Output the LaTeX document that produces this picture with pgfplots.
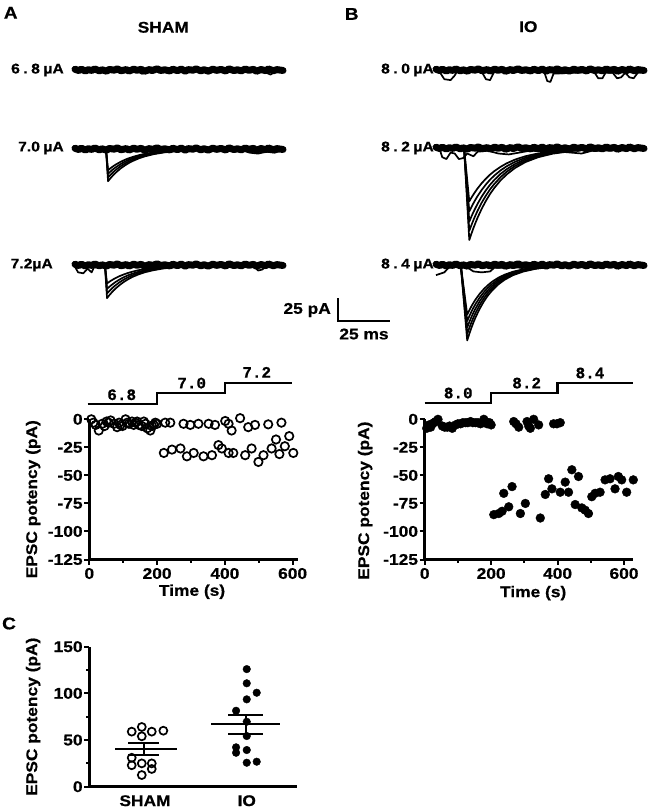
\documentclass[border=0pt]{standalone}
\usepackage{fontspec}
\setmainfont{Liberation Sans}[FakeStretch=1.12, BoldFeatures={FakeBold=0.6}]
\newfontfamily\monofont{Liberation Mono}[BoldFeatures={FakeBold=0.6}]
\usepackage{pgfplots}
\usepackage{pgfplotstable}
\pgfplotsset{compat=1.18}

\newcommand\lf{\fontsize{15.5}{18}\selectfont\bfseries}
\newcommand\yf{\fontsize{15.5}{18}\selectfont\bfseries}
\newcommand\hf{\fontsize{17}{20}\selectfont\bfseries}
\newcommand\smf{\fontsize{14}{16}\selectfont\bfseries}
\newcommand\stf{\fontsize{16}{18}\selectfont\monofont\bfseries}
\newcommand\spc{\hspace{3.5pt}}

% baseline noise shared by the sweeps (pA vs ms)
\pgfplotstableread{
t y
0 0.8
1.8 -0.6
3.1 0.9
5.0 -1.2
6.2 0.3
8.1 -0.4
9.5 1.1
11.7 -0.9
13.0 0.2
15.2 -1.3
16.4 0.6
18.9 -0.2
20.3 1.2
22.1 -0.8
24.6 0.4
26.0 -1.1
28.3 0.9
29.7 -0.3
31.9 0.7
33.4 -1.4
35.8 0.5
37.1 -0.6
39.5 1.3
41.0 -0.5
43.2 0.2
45.6 -1.0
47.0 0.8
49.3 -0.7
51.1 1.0
53.0 -1.3
54.4 0.4
56.8 -0.2
58.2 1.2
60.5 -0.9
62.0 0.3
64.1 -1.2
66.3 0.9
68.0 -0.4
70.2 0.6
72.5 -1.1
74.0 1.3
76.3 -0.6
78.1 0.2
80.0 -0.9
81.8 1.0
83.6 -0.3
85.9 0.7
87.2 -1.4
89.4 0.5
91.7 -0.7
93.0 1.1
95.3 -0.8
97.1 0.4
100 -0.5
}\noise

\pgfplotsset{
  trace/.style={hide axis, scale only axis, width=208pt, height=110.4pt,
    xmin=0, xmax=100, ymin=-110, ymax=10, clip=false, anchor=south west},
  base/.style={line width=7pt, line join=round, line cap=round, black},
  ev/.style={line width=1.7pt, black, line join=round},
  scat/.style={scale only axis, anchor=south west,
    axis x line=bottom, axis y line=left,
    axis line style={-, line width=2.6pt},
    tick align=outside, major tick length=5pt, minor tick length=3pt,
    tick style={line width=2pt, black},
    tick label style={font=\lf},
    yticklabel style={inner sep=1.5pt},
    label style={font=\yf},
    clip=false},
}

\begin{document}
\begin{tikzpicture}
\useasboundingbox (0pt,0pt) rectangle (649pt,-808pt);
\fill[white] (0pt,0pt) rectangle (649pt,-808pt);

% ---------- sweeps, SHAM ----------
\begin{axis}[trace, at={(75pt,-171.2pt)}]
\addplot[base] table[x=t,y=y] {\noise};
\addplot[ev] coordinates {(30,-1)(32,-4)(34,-3)(40,-1)(62,-1)(64,-4)(66,-2)(90,-1)(94,-5)(96,-2)};
\end{axis}

\begin{axis}[trace, at={(75pt,-250.2pt)}]
\addplot[base] table[x=t,y=y] {\noise};
\addplot[ev] coordinates {(14.9,0)(15.9,-35)(16.9,-32.2)(17.9,-29.6)(18.9,-27.3)(19.9,-25.1)(21.9,-21.2)(23.9,-18)(25.9,-15.2)(27.9,-12.9)(30.9,-10)(33.9,-7.8)(37.9,-5.6)(42.9,-3.7)(48.9,-2.2)(55.9,-1.3)(70,0)};
\addplot[ev] coordinates {(14.9,0)(15.9,-31)(16.9,-28.5)(17.9,-26.2)(18.9,-24.1)(19.9,-22.2)(21.9,-18.8)(23.9,-15.9)(25.9,-13.5)(27.9,-11.4)(30.9,-8.9)(33.9,-6.9)(37.9,-5)(42.9,-3.3)(48.9,-2)(55.9,-1.1)(70,0)};
\addplot[ev] coordinates {(14.9,0)(15.9,-27)(16.9,-24.8)(17.9,-22.8)(18.9,-21)(19.9,-19.4)(21.9,-16.4)(23.9,-13.9)(25.9,-11.7)(27.9,-9.9)(30.9,-7.7)(33.9,-6)(37.9,-4.3)(42.9,-2.8)(48.9,-1.7)(55.9,-1)(70,0)};
\addplot[ev] coordinates {(14.9,0)(15.9,-23)(16.9,-21.2)(17.9,-19.5)(18.9,-17.9)(19.9,-16.5)(21.9,-14)(23.9,-11.8)(25.9,-10)(27.9,-8.5)(30.9,-6.6)(33.9,-5.1)(37.9,-3.7)(42.9,-2.4)(48.9,-1.5)(55.9,-0.8)(70,0)};
\addplot[ev] coordinates {(80,-1)(84,-4)(88,-5)(92,-3)(96,-4)(99,-2)};
\end{axis}

\begin{axis}[trace, at={(75pt,-366.2pt)}]
\addplot[base] table[x=t,y=y] {\noise};
\addplot[ev] coordinates {(0,-2)(1.5,-8)(4,-9)(6,-4)(8,-8)(9,-3)(14.4,-1)};
\addplot[ev] coordinates {(14.4,0)(15.4,-36)(16.4,-33.1)(17.4,-30.5)(18.4,-28)(19.4,-25.8)(21.4,-21.9)(23.4,-18.5)(25.4,-15.7)(27.4,-13.2)(30.4,-10.3)(33.4,-8)(37.4,-5.8)(42.4,-3.8)(48.4,-2.3)(55.4,-1.3)(70,0)};
\addplot[ev] coordinates {(14.4,0)(15.4,-31)(16.4,-28.5)(17.4,-26.2)(18.4,-24.1)(19.4,-22.2)(21.4,-18.8)(23.4,-15.9)(25.4,-13.5)(27.4,-11.4)(30.4,-8.9)(33.4,-6.9)(37.4,-5)(42.4,-3.3)(48.4,-2)(55.4,-1.1)(70,0)};
\addplot[ev] coordinates {(14.4,0)(15.4,-26)(16.4,-23.9)(17.4,-22)(18.4,-20.3)(19.4,-18.6)(21.4,-15.8)(23.4,-13.3)(25.4,-11.3)(27.4,-9.6)(30.4,-7.5)(33.4,-5.8)(37.4,-4.2)(42.4,-2.7)(48.4,-1.7)(55.4,-0.9)(70,0)};
\addplot[ev] coordinates {(14.4,0)(15.4,-20)(16.4,-18.4)(17.4,-16.9)(18.4,-15.6)(19.4,-14.3)(21.4,-12.1)(23.4,-10.3)(25.4,-8.7)(27.4,-7.4)(30.4,-5.7)(33.4,-4.5)(37.4,-3.2)(42.4,-2.1)(48.4,-1.3)(55.4,-0.7)(70,0)};
\addplot[ev] coordinates {(86,-1)(88,-6)(90,-5)(92,-1)};
% scale bar: 25 pA, 25 ms
\addplot[line width=2.6pt, black] coordinates {(126.4,-35.9)(126.4,-60.9)(151.4,-60.9)};
\end{axis}

% ---------- sweeps, IO ----------
\begin{axis}[trace, at={(436pt,-171.2pt)}]
\addplot[base] table[x=t,y=y] {\noise};
\addplot[ev] coordinates {(0,-2)(2,-3)(4,-10)(7,-11)(9,-6)(10,-2)(22,-2)(24,-10)(26,-11)(27.5,-4)(28,-2)(52,-2)(53.5,-12)(55,-13)(56.5,-4)(76,-2)(78,-9)(80,-9)(81.5,-3)(85,-3)(87,-9)(89,-8)(91,-3)(93,-8)(95,-9)(97,-3)(100,-2)};
\end{axis}

\begin{axis}[trace, at={(436pt,-249.2pt)}]
\addplot[base] table[x=t,y=y] {\noise};
\addplot[ev] coordinates {(0,-1)(2,-3)(3,-10)(5,-12)(7,-5)(9,-6)(11,-12)(13,-11)(15,-6)(18,-9)(20,-4)(25,-3)(30,-6)(35,-7)(40,-5)(45,-3)(60,-4)(70,-6)(75,-3)(100,-2)};
\addplot[ev] coordinates {(13.5,0)(16,-100)(17,-93.3)(18,-87)(19,-81.2)(20,-75.7)(22,-65.9)(24,-57.4)(26,-49.9)(28,-43.5)(31,-35.3)(34,-28.7)(38,-21.7)(43,-15.3)(49,-10.1)(56,-6.2)(66,-3.1)(80,0)};
\addplot[ev] coordinates {(13.5,0)(16,-90)(17,-84)(18,-78.3)(19,-73.1)(20,-68.1)(22,-59.3)(24,-51.7)(26,-44.9)(28,-39.2)(31,-31.8)(34,-25.8)(38,-19.5)(43,-13.8)(49,-9.1)(56,-5.6)(66,-2.8)(80,0)};
\addplot[ev] coordinates {(13.5,0)(16,-80)(17,-74.6)(18,-69.6)(19,-65)(20,-60.6)(22,-52.7)(24,-45.9)(26,-39.9)(28,-34.8)(31,-28.2)(34,-23)(38,-17.4)(43,-12.2)(49,-8.1)(56,-5)(66,-2.5)(80,0)};
\addplot[ev] coordinates {(13.5,0)(16,-69)(17,-64.4)(18,-60)(19,-56)(20,-52.2)(22,-45.5)(24,-39.6)(26,-34.4)(28,-30)(31,-24.4)(34,-19.8)(38,-15)(43,-10.6)(49,-7)(56,-4.3)(66,-2.1)(80,0)};
\addplot[ev] coordinates {(13.5,0)(16,-58)(17,-54.1)(18,-50.5)(19,-47.1)(20,-43.9)(22,-38.2)(24,-33.3)(26,-28.9)(28,-25.2)(31,-20.5)(34,-16.6)(38,-12.6)(43,-8.9)(49,-5.9)(56,-3.6)(66,-1.8)(80,0)};
\end{axis}

\begin{axis}[trace, at={(436pt,-366.2pt)}]
\addplot[base] table[x=t,y=y] {\noise};
\addplot[ev] coordinates {(0,-11)(4,-8)(6,-3)(14,-1)(18,-7)(22,-8)(26,-7)(28,-3)(100,-1)};
\addplot[ev] coordinates {(11.9,0)(15,-82)(16,-74.9)(17,-68.4)(18,-62.4)(19,-57)(21,-47.6)(23,-39.6)(25,-33)(27,-27.6)(30,-21)(33,-16)(37,-11.1)(42,-7.1)(48,-4.1)(55,-2.1)(70,0)};
\addplot[ev] coordinates {(11.9,0)(15,-75)(16,-68.5)(17,-62.6)(18,-57.1)(19,-52.1)(21,-43.5)(23,-36.2)(25,-30.2)(27,-25.2)(30,-19.2)(33,-14.6)(37,-10.1)(42,-6.5)(48,-3.8)(55,-2)(70,0)};
\addplot[ev] coordinates {(11.9,0)(15,-68)(16,-62.1)(17,-56.7)(18,-51.7)(19,-47.3)(21,-39.4)(23,-32.8)(25,-27.4)(27,-22.8)(30,-17.4)(33,-13.3)(37,-9.2)(42,-5.8)(48,-3.4)(55,-1.8)(70,0)};
\addplot[ev] coordinates {(11.9,0)(15,-61)(16,-55.7)(17,-50.9)(18,-46.4)(19,-42.4)(21,-35.4)(23,-29.5)(25,-24.6)(27,-20.5)(30,-15.6)(33,-11.9)(37,-8.2)(42,-5.2)(48,-3.1)(55,-1.6)(70,0)};
\addplot[ev] coordinates {(11.9,0)(15,-54)(16,-49.3)(17,-45)(18,-41.1)(19,-37.5)(21,-31.3)(23,-26.1)(25,-21.8)(27,-18.1)(30,-13.8)(33,-10.5)(37,-7.3)(42,-4.6)(48,-2.7)(55,-1.4)(70,0)};
\end{axis}

% ---------- time course, SHAM ----------
\begin{axis}[scat, at={(89.3pt,-559.5pt)}, width=208.4pt, height=140.2pt,
  xmin=0, xmax=615, ymin=-125, ymax=0,
  xtick={0,200,400,600}, xticklabels={0,200,400,600}, minor xtick={100,300,500},
  ytick={-125,-100,-75,-50,-25,0}, yticklabels={-125,-100,-75,-50,-25,0},
  ylabel={EPSC potency (pA)}, xlabel={Time (s)},
  ylabel style={at={(axis description cs:-0.27,0.43)}, anchor=center},
  xlabel style={at={(axis description cs:0.493,-0.23)}, anchor=center}]
\addplot[line width=2.2pt, black] coordinates {(-5,13.6)(200,13.6)(200,23.2)(400,23.2)(400,32.6)(598,32.6)};
\node[font=\stf, anchor=base] at (axis cs:95.6,17.2) {6.8};
\node[font=\stf, anchor=base] at (axis cs:302,27.6) {7.0};
\node[font=\stf, anchor=base] at (axis cs:494,37.1) {7.2};
\addplot[only marks, mark=o, mark size=4.2pt, mark options={line width=1.7pt, black}] coordinates {
(6,0)(12,-3)(19,-5)(28,-10)(38,-4)(45,-6)(51,-2)(57,-3)(63,-1)(73,-4)(82,-7)(88,-3)(92,-5)(98,-6)
(107,0)(112,-3)(117,-4)(126,-2)(131,-5)(136,-3)(141,-2)(146,-5)(155,-6)(161,-2)(166,-4)(171,-8)(180,-10)(185,-6)(190,-5)(195,-3)(200,-4)
(224,-3)(239,-3)(278,-4)(298,-5)(322,-4)(352,-4)(371,-5)(401,-1.5)(411,-4)(420,-10)(445,1)(469,-7)(489,-5)(528,-4.5)(567,-3)
(220,-30)(244,-27)(269,-26)(288,-33)(308,-30)(337,-33)(362,-32)(381,-23)(391,-26)(411,-30)(425,-30)(460,-32)(479,-26)(499,-38)(514,-32)(538,-26)(551,-18)(561,-31)(577,-24)(590,-15)(602,-30)};
\end{axis}

% ---------- time course, IO ----------
\begin{axis}[scat, at={(424.7pt,-559.5pt)}, width=208.6pt, height=140.2pt,
  xmin=0, xmax=628, ymin=-125, ymax=0,
  xtick={0,200,400,600}, xticklabels={0,200,400,600}, minor xtick={100,300,500},
  ytick={-125,-100,-75,-50,-25,0}, yticklabels={-125,-100,-75,-50,-25,0},
  ylabel={EPSC potency (pA)}, xlabel={Time (s)},
  ylabel style={at={(axis description cs:-0.286,0.42)}, anchor=center},
  xlabel style={at={(axis description cs:0.52,-0.24)}, anchor=center}]
\addplot[line width=2.2pt, black] coordinates {(0,14.3)(200,14.3)(200,23.2)(400,23.2)(400,32.1)(628,32.1)};
\node[font=\stf, anchor=base] at (axis cs:101,18.7) {8.0};
\node[font=\stf, anchor=base] at (axis cs:307,27.6) {8.2};
\node[font=\stf, anchor=base] at (axis cs:497.6,36.6) {8.4};
\addplot[only marks, mark=*, mark size=4.4pt, mark options={black, fill=black}] coordinates {
(6,-8)(13,-5)(18,-7)(23,-4)(28,-3)(33,-2)(40,0)(53,-6)(60,-7)(68,-7)(75,-6)(83,-8)(93,-5)(100,-4)(108,-4)(115,-3)(123,-3)(130,-3)(138,-2)(145,-3)(153,-3)(160,-3)(168,-4)(178,0)(183,-2)(188,-4)(195,-3)(200,-5)
(268,-2)(275,-4)(283,-7)(308,-2)(313,-6)(318,-8)(328,0)(343,-5)(388,-4)(398,-4)(408,-3)
(208,-85)(223,-84)(233,-82)(238,-66)(253,-78)(263,-60)(288,-84)(303,-75)(348,-88)(363,-67)(373,-53)(383,-62)(408,-65)(423,-56)(433,-65)(443,-45)(453,-76)(463,-51)(473,-79)(483,-81)(493,-84)(503,-69)(513,-66)(528,-65)(543,-54)(558,-53)(573,-62)(583,-51)(593,-54)(608,-65)(628,-54)};
\end{axis}

% ---------- panel C ----------
\begin{axis}[scat, at={(89.3pt,-786.7pt)}, width=208pt, height=140pt,
  xmin=0.452, xmax=2.497, ymin=0, ymax=150,
  xtick={1,2}, xticklabels={SHAM,IO}, x tick style={draw=none},
  ytick={0,50,100,150}, yticklabels={0,50,100,150}, minor ytick={25,75,125},
  ylabel={EPSC potency (pA)},
  ylabel style={at={(axis description cs:-0.27,0.5)}, anchor=center}]
\addplot[only marks, mark=o, mark size=4pt, mark options={line width=1.7pt, black}] coordinates {
(0.869,59)(0.968,64)(1.066,59)(1.18,60)(0.968,54)(0.869,31)(0.968,25)(0.869,23)(1.066,25)(1.066,19)(0.968,12.5)};
\addplot[only marks, mark=*, mark size=3.8pt, mark options={black, fill=black}] coordinates {
(2,126)(2,110.8)(2.098,100.7)(2,93.6)(1.895,81.4)(2,69.6)(2,54.3)(1.895,42.2)(1.895,36.4)(2,39.3)(2,25.7)(2.098,26.8)};
% mean and SEM
\addplot[line width=2pt, black] coordinates {(0.705,40)(1.312,40)};
\addplot[line width=2pt, black] coordinates {(0.836,47)(1.141,47)};
\addplot[line width=2pt, black] coordinates {(0.836,34.3)(1.141,34.3)};
\addplot[line width=2pt, black] coordinates {(0.99,34.3)(0.99,47)};
\addplot[line width=2pt, black] coordinates {(1.65,67)(2.33,67)};
\addplot[line width=2pt, black] coordinates {(1.82,77.1)(2.16,77.1)};
\addplot[line width=2pt, black] coordinates {(1.82,56.8)(2.16,56.8)};
\addplot[line width=2pt, black] coordinates {(1.99,56.8)(1.99,77.1)};
\end{axis}

% ---------- text ----------
\begin{scope}[every node/.style={inner sep=0pt}]
\node[font=\hf] at (10.7pt,-12.8pt) {A};
\node[font=\hf] at (351.7pt,-14pt) {B};
\node[font=\hf] at (9pt,-623.5pt) {C};
\node[font=\lf] at (163.3pt,-27.3pt) {SHAM};
\node[font=\lf] at (528.3pt,-26.7pt) {IO};
\node[font=\smf, anchor=east] at (64pt,-70pt) {6\spc.\spc8\spc µA};
\node[font=\smf, anchor=east] at (64pt,-148pt) {7.0\spc µA};
\node[font=\smf, anchor=east] at (53pt,-265pt) {7.2µA};
\node[font=\smf, anchor=east] at (434pt,-70pt) {8\spc.\spc0\spc µA};
\node[font=\smf, anchor=east] at (434pt,-148pt) {8\spc.\spc2\spc µA};
\node[font=\smf, anchor=east] at (434pt,-265pt) {8\spc.\spc4\spc µA};
\node[font=\lf, anchor=east] at (331pt,-310pt) {25 pA};
\node[font=\lf] at (364pt,-334pt) {25 ms};
\end{scope}
\end{tikzpicture}
\end{document}
